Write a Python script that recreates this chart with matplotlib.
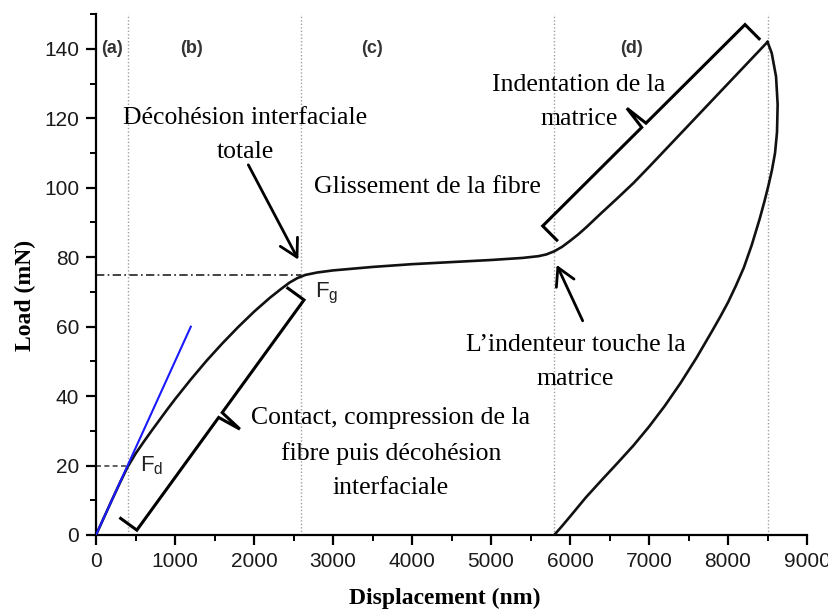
import numpy as np
import matplotlib
matplotlib.use("Agg")
import matplotlib.pyplot as plt
from matplotlib.ticker import MultipleLocator

plt.rcParams['mathtext.default'] = 'regular'

# courbe de charge (nm, mN)
x_load = [0, 100, 200, 300, 400, 500, 600, 700, 800, 900, 1000, 1200, 1400,
          1600, 1800, 2000, 2200, 2350, 2450, 2550, 2650, 2800, 3000, 3500,
          4000, 4500, 5000, 5400, 5600, 5700, 5800, 5900, 6000, 6100, 6200,
          6400, 6600, 6800, 7000, 7500, 8000, 8500]
y_load = [0, 5, 10, 14.9, 19.6, 23.4, 26.7, 29.9, 33, 36.1, 39.1, 44.8, 50.2,
          55.2, 59.9, 64.3, 68.3, 71, 72.7, 74, 74.9, 75.6, 76.2, 77.2,
          78, 78.6, 79.2, 79.8, 80.3, 80.8, 81.7, 83, 84.7, 86.5, 88.5,
          92.8, 97, 101.3, 106, 118, 130, 142]

# courbe de décharge
x_unload = [8500, 8553, 8608, 8628, 8620, 8595, 8555, 8510, 8460, 8400, 8300,
            8200, 8100, 8000, 7900, 7800, 7600, 7400, 7200, 7000, 6800, 6600,
            6400, 6200, 6000, 5900, 5850, 5800]
y_unload = [142, 138.8, 132, 124, 116, 110, 105, 100.5, 96, 91, 83.5,
            77, 71.8, 67, 62.8, 58.8, 51, 43.8, 37.2, 31.2, 25.7, 20.7,
            15.8, 10.8, 5.3, 2.6, 1.3, 0]

# pente initiale
x_slope = [0, 1200]
y_slope = [0, 60]

# limites des zones (a)-(d)
zone_bounds = [400, 2600, 5800, 8500]
zone_labels = ['(a)', '(b)', '(c)', '(d)']
zone_label_x = [200, 1215, 3494, 6772]

F_d = 20
F_g = 75

SERIF = 'Liberation Serif'
SANS = 'Liberation Sans'


def brace(ax, p0, p1, hook=20, tip=24, gap=3, lw=2.2):
    """Accolade entre p0 et p1 (coord. données), crochets à gauche, pointe à droite."""
    to_disp = ax.transData.transform
    to_data = ax.transData.inverted().transform
    a = to_disp(p0)
    b = to_disp(p1)
    d = (b - a) / np.hypot(*(b - a))
    n = np.array([-d[1], d[0]])  # normale gauche
    m = (a + b) / 2
    pts = [a + n * hook, a, m - d * gap, m - n * tip, m + d * gap, b, b + n * hook]
    pts = to_data(np.array(pts))
    ax.plot(pts[:, 0], pts[:, 1], color='black', lw=lw, solid_joinstyle='miter',
            clip_on=False, zorder=5)


fig = plt.figure(figsize=(8.29, 6.16), dpi=100)
ax = fig.add_axes([0.1158, 0.1315, 0.8577, 0.8455])
ax.set_xlim(0, 9000)
ax.set_ylim(0, 150)

for xb in zone_bounds:
    ax.plot([xb, xb], [0, 150], color='#a0a0a0', lw=1.0, ls=(0, (1, 1.5)), zorder=1)
ax.plot([0, zone_bounds[1]], [F_g, F_g], color='#222222', lw=1.2, ls=(0, (5, 2, 1, 2)), zorder=1)
ax.plot([0, zone_bounds[0]], [F_d, F_d], color='#444444', lw=1.2, ls=(0, (3, 2)), zorder=1)

ax.plot(x_load, y_load, color='#111111', lw=1.9, zorder=3)
ax.plot(x_unload, y_unload, color='#111111', lw=1.9, zorder=3)
ax.plot(x_slope, y_slope, color='#1a1aff', lw=1.5, zorder=4)

for lab, xl in zip(zone_labels, zone_label_x):
    ax.text(xl, 140, lab, family=SANS, fontsize=13, fontweight='bold', color='#333333',
            ha='center', va='center')

ax.text(557, F_d, 'F$_{d}$', family=SANS, fontsize=16, color='#222222', ha='left', va='center')
ax.text(2772, 69.7, 'F$_{g}$', family=SANS, fontsize=16, color='#222222', ha='left', va='center')

txt = dict(family=SERIF, fontsize=18.5, color='black', ha='center', va='center', linespacing=1.7)
ax.text(1886, 115.3, 'Décohésion interfaciale\ntotale', **txt)
ax.text(4200, 100.3, 'Glissement de la fibre', **txt)
ax.text(6114, 124.8, 'Indentation de la\nmatrice', **txt)
ax.text(6070, 49.9, 'L\u2019indenteur touche la\nmatrice', **txt)
ax.text(3734, 23.6, 'Contact, compression de la\nfibre puis décohésion\ninterfaciale', **txt)

arrow = dict(arrowstyle='->,head_length=0.5,head_width=0.28', lw=2.0, color='black',
             shrinkA=0, shrinkB=0, mutation_scale=25)
ax.annotate('', xy=(2561, 79.3), xytext=(1928, 106.6), arrowprops=arrow)
ax.annotate('', xy=(5831, 77.8), xytext=(6160, 61.7), arrowprops=arrow)

brace(ax, (517, 1.4), (2633, 67.7))
brace(ax, (8215, 147), (5654, 89))

for side in ['top', 'right']:
    ax.spines[side].set_visible(False)
for side in ['left', 'bottom']:
    ax.spines[side].set_linewidth(1.6)

ax.xaxis.set_major_locator(MultipleLocator(1000))
ax.xaxis.set_minor_locator(MultipleLocator(500))
ax.yaxis.set_major_locator(MultipleLocator(20))
ax.yaxis.set_minor_locator(MultipleLocator(10))
ax.tick_params(which='major', length=7, width=1.6, labelsize=15, labelcolor='#1a1a1a', pad=5)
ax.tick_params(which='minor', length=4.5, width=1.4)
for lbl in ax.get_xticklabels() + ax.get_yticklabels():
    lbl.set_family(SANS)

ax.set_xlabel('Displacement (nm)', family=SERIF, fontsize=17, fontweight='bold')
ax.set_ylabel('Load (mN)', family=SERIF, fontsize=17, fontweight='bold')
ax.xaxis.set_label_coords(0.491, -0.121)
ax.xaxis.label.set_verticalalignment('center')
ax.yaxis.set_label_coords(-0.0999, 0.4607)
ax.yaxis.label.set_verticalalignment('center')

fig.savefig('out.png', dpi=100)
